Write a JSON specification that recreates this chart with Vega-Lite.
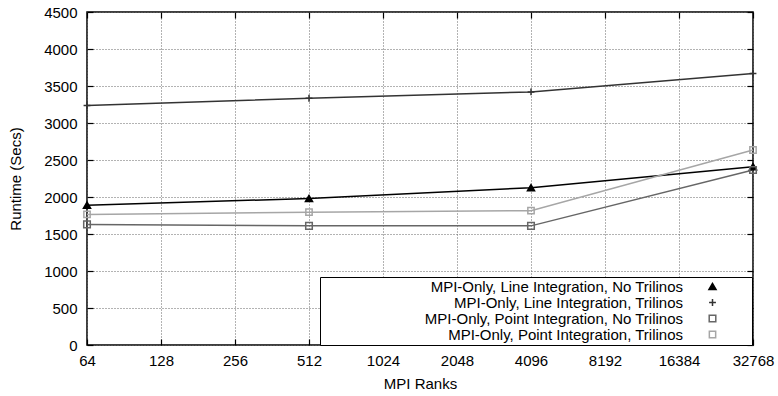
{
  "$schema": "https://vega.github.io/schema/vega-lite/v6.json",
  "width": 666,
  "height": 333,
  "autosize": "none",
  "padding": {"left": 87, "top": 12, "right": 25, "bottom": 51},
  "background": "white",
  "config": {
    "font": "Liberation Sans",
    "view": {"stroke": "#000", "strokeWidth": 1.5},
    "axis": {
      "domain": false,
      "labelFont": "Liberation Sans",
      "titleFont": "Liberation Sans",
      "labelFontSize": 15,
      "titleFontSize": 15,
      "titleFontWeight": "normal",
      "labelColor": "#000",
      "titleColor": "#000",
      "tickColor": "#000",
      "tickWidth": 1.2,
      "gridColor": "#666",
      "gridDash": [1, 2],
      "gridWidth": 1,
      "gridOpacity": 1,
      "labelFlush": false
    }
  },
  "data": {
    "values": [
      {"ranks": 64, "runtime": 1890, "series": "MPI-Only, Line Integration, No Trilinos"},
      {"ranks": 512, "runtime": 1980, "series": "MPI-Only, Line Integration, No Trilinos"},
      {"ranks": 4096, "runtime": 2125, "series": "MPI-Only, Line Integration, No Trilinos"},
      {"ranks": 32768, "runtime": 2410, "series": "MPI-Only, Line Integration, No Trilinos"},
      {"ranks": 64, "runtime": 3235, "series": "MPI-Only, Line Integration, Trilinos"},
      {"ranks": 512, "runtime": 3335, "series": "MPI-Only, Line Integration, Trilinos"},
      {"ranks": 4096, "runtime": 3420, "series": "MPI-Only, Line Integration, Trilinos"},
      {"ranks": 32768, "runtime": 3670, "series": "MPI-Only, Line Integration, Trilinos"},
      {"ranks": 64, "runtime": 1630, "series": "MPI-Only, Point Integration, No Trilinos"},
      {"ranks": 512, "runtime": 1610, "series": "MPI-Only, Point Integration, No Trilinos"},
      {"ranks": 4096, "runtime": 1610, "series": "MPI-Only, Point Integration, No Trilinos"},
      {"ranks": 32768, "runtime": 2365, "series": "MPI-Only, Point Integration, No Trilinos"},
      {"ranks": 64, "runtime": 1765, "series": "MPI-Only, Point Integration, Trilinos"},
      {"ranks": 512, "runtime": 1795, "series": "MPI-Only, Point Integration, Trilinos"},
      {"ranks": 4096, "runtime": 1815, "series": "MPI-Only, Point Integration, Trilinos"},
      {"ranks": 32768, "runtime": 2635, "series": "MPI-Only, Point Integration, Trilinos"}
    ]
  },
  "resolve": {"axis": {"x": "independent", "y": "independent"}},
  "layer": [
    {
      "mark": {"type": "line", "strokeWidth": 1.5},
      "encoding": {
        "x": {
          "field": "ranks", "type": "quantitative",
          "scale": {"type": "log", "base": 2, "domain": [64, 32768], "nice": false},
          "axis": {
            "orient": "bottom",
            "values": [64, 128, 256, 512, 1024, 2048, 4096, 8192, 16384, 32768],
            "format": "d",
            "grid": true,
            "tickSize": -6,
            "labelPadding": 14,
            "title": "MPI Ranks",
            "titlePadding": 8
          }
        },
        "y": {
          "field": "runtime", "type": "quantitative",
          "scale": {"domain": [0, 4500], "nice": false},
          "axis": {
            "orient": "left",
            "values": [0, 500, 1000, 1500, 2000, 2500, 3000, 3500, 4000, 4500],
            "format": "d",
            "grid": true,
            "tickSize": -6,
            "labelPadding": 16,
            "title": "Runtime (Secs)",
            "titlePadding": 20
          }
        },
        "color": {
          "field": "series", "type": "nominal",
          "scale": {
            "domain": ["MPI-Only, Line Integration, No Trilinos", "MPI-Only, Line Integration, Trilinos", "MPI-Only, Point Integration, No Trilinos", "MPI-Only, Point Integration, Trilinos"],
            "range": ["#000000", "#333333", "#666666", "#a6a6a6"]
          },
          "legend": {
            "title": " ",
            "titleOrient": "right",
            "titleFontSize": 2,
            "titlePadding": 31,
            "orient": "none",
            "legendX": 233,
            "legendY": 265,
            "padding": 2,
            "fillColor": "white",
            "strokeColor": "#000",
            "labelFont": "Liberation Sans",
            "labelFontSize": 15,
            "labelColor": "#000",
            "labelAlign": "right",
            "labelOffset": -37,
            "labelLimit": 400,
            "symbolOffset": 383,
            "symbolSize": 100,
            "symbolStrokeWidth": 1.5,
            "rowPadding": -0.7
          }
        }
      }
    },
    {
      "mark": {"type": "point", "opacity": 1, "strokeWidth": 1.5},
      "encoding": {
        "x": {
          "field": "ranks", "type": "quantitative",
          "axis": {
            "orient": "top",
            "values": [64, 128, 256, 512, 1024, 2048, 4096, 8192, 16384, 32768],
            "labels": false,
            "grid": false,
            "tickSize": -6,
            "title": null
          }
        },
        "y": {
          "field": "runtime", "type": "quantitative",
          "axis": {
            "orient": "right",
            "values": [0, 500, 1000, 1500, 2000, 2500, 3000, 3500, 4000, 4500],
            "labels": false,
            "grid": false,
            "tickSize": -6,
            "title": null
          }
        },
        "shape": {
          "field": "series", "type": "nominal",
          "scale": {
            "domain": ["MPI-Only, Line Integration, No Trilinos", "MPI-Only, Line Integration, Trilinos", "MPI-Only, Point Integration, No Trilinos", "MPI-Only, Point Integration, Trilinos"],
            "range": ["triangle-up", "M-1,0H1M0,-1V1", "square", "square"]
          },
          "legend": null
        },
        "stroke": {
          "field": "series", "type": "nominal",
          "scale": {
            "domain": ["MPI-Only, Line Integration, No Trilinos", "MPI-Only, Line Integration, Trilinos", "MPI-Only, Point Integration, No Trilinos", "MPI-Only, Point Integration, Trilinos"],
            "range": ["#000000", "#333333", "#666666", "#a6a6a6"]
          },
          "legend": null
        },
        "fill": {
          "field": "series", "type": "nominal",
          "scale": {
            "domain": ["MPI-Only, Line Integration, No Trilinos", "MPI-Only, Line Integration, Trilinos", "MPI-Only, Point Integration, No Trilinos", "MPI-Only, Point Integration, Trilinos"],
            "range": ["#000000", "transparent", "transparent", "transparent"]
          },
          "legend": null
        },
        "size": {
          "field": "series", "type": "nominal",
          "scale": {
            "domain": ["MPI-Only, Line Integration, No Trilinos", "MPI-Only, Line Integration, Trilinos", "MPI-Only, Point Integration, No Trilinos", "MPI-Only, Point Integration, Trilinos"],
            "range": [50, 40, 60, 60]
          },
          "legend": null
        }
      }
    }
  ]
}
